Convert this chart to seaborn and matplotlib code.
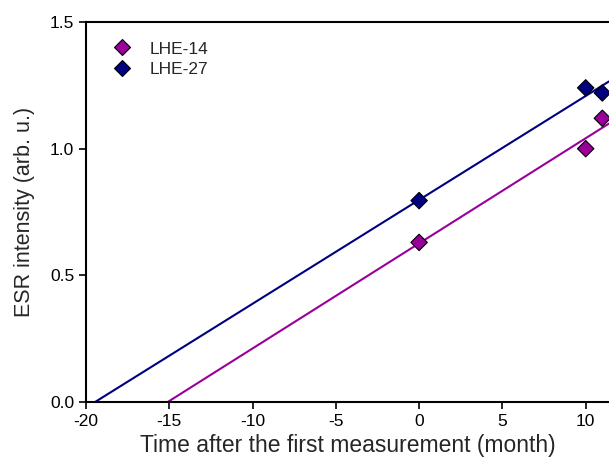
import numpy as np
import pandas as pd
import seaborn as sns
import matplotlib.pyplot as plt

sns.set_style("ticks")
plt.rcParams['font.family'] = ['Liberation Sans', 'DejaVu Sans']
plt.rcParams['axes.unicode_minus'] = False

# measured ESR intensity, months after first measurement
months = [0, 10, 11]
lhe14 = [0.63, 1.00, 1.12]
lhe27 = [0.795, 1.24, 1.22]
samples = ["LHE-14", "LHE-27"]
colors = {"LHE-14": "#990099", "LHE-27": "#000080"}

df = pd.DataFrame({
    "month": months * 2,
    "esr": lhe14 + lhe27,
    "sample": [samples[0]] * 3 + [samples[1]] * 3,
})

fig = plt.figure(figsize=(6.09, 4.68), dpi=100)
ax = fig.add_axes([0.1412, 0.141, 1 - 0.1412, 0.953 - 0.141])
ax.set_xlim(-20, 11.4)
ax.set_ylim(0, 1.5)

# linear fits extended back to zero intensity
for name in samples:
    sub = df[df["sample"] == name]
    sns.regplot(data=sub, x="month", y="esr", ax=ax, scatter=False, ci=None,
                truncate=False, color=colors[name], line_kws={"linewidth": 1.5})

sns.scatterplot(data=df, x="month", y="esr", hue="sample", palette=colors,
                marker="D", s=70, edgecolor="black", linewidth=0.8, ax=ax, zorder=3)

ax.set_xlim(-20, 11.4)
ax.set_ylim(0, 1.5)
ax.set_xticks([-20, -15, -10, -5, 0, 5, 10])
ax.set_yticks([0.0, 0.5, 1.0, 1.5])
ax.set_yticklabels(["0.0", "0.5", "1.0", "1.5"])
ax.tick_params(direction="out", length=5, width=1.2, labelsize=12.5, colors="black")
for side in ["left", "bottom", "top"]:
    ax.spines[side].set_linewidth(1.5)
    ax.spines[side].set_color("black")
ax.spines["right"].set_visible(False)

ax.set_xlabel("Time after the first measurement (month)", fontsize=16.5, labelpad=4)
ax.set_ylabel("ESR intensity (arb. u.)", fontsize=15.5, labelpad=11)

ax.legend(loc="upper left", bbox_to_anchor=(0.005, 0.99), frameon=False,
          fontsize=12.5, handletextpad=0.6, labelspacing=0.3, borderaxespad=0.5)

fig.savefig("out.png", dpi=100)
